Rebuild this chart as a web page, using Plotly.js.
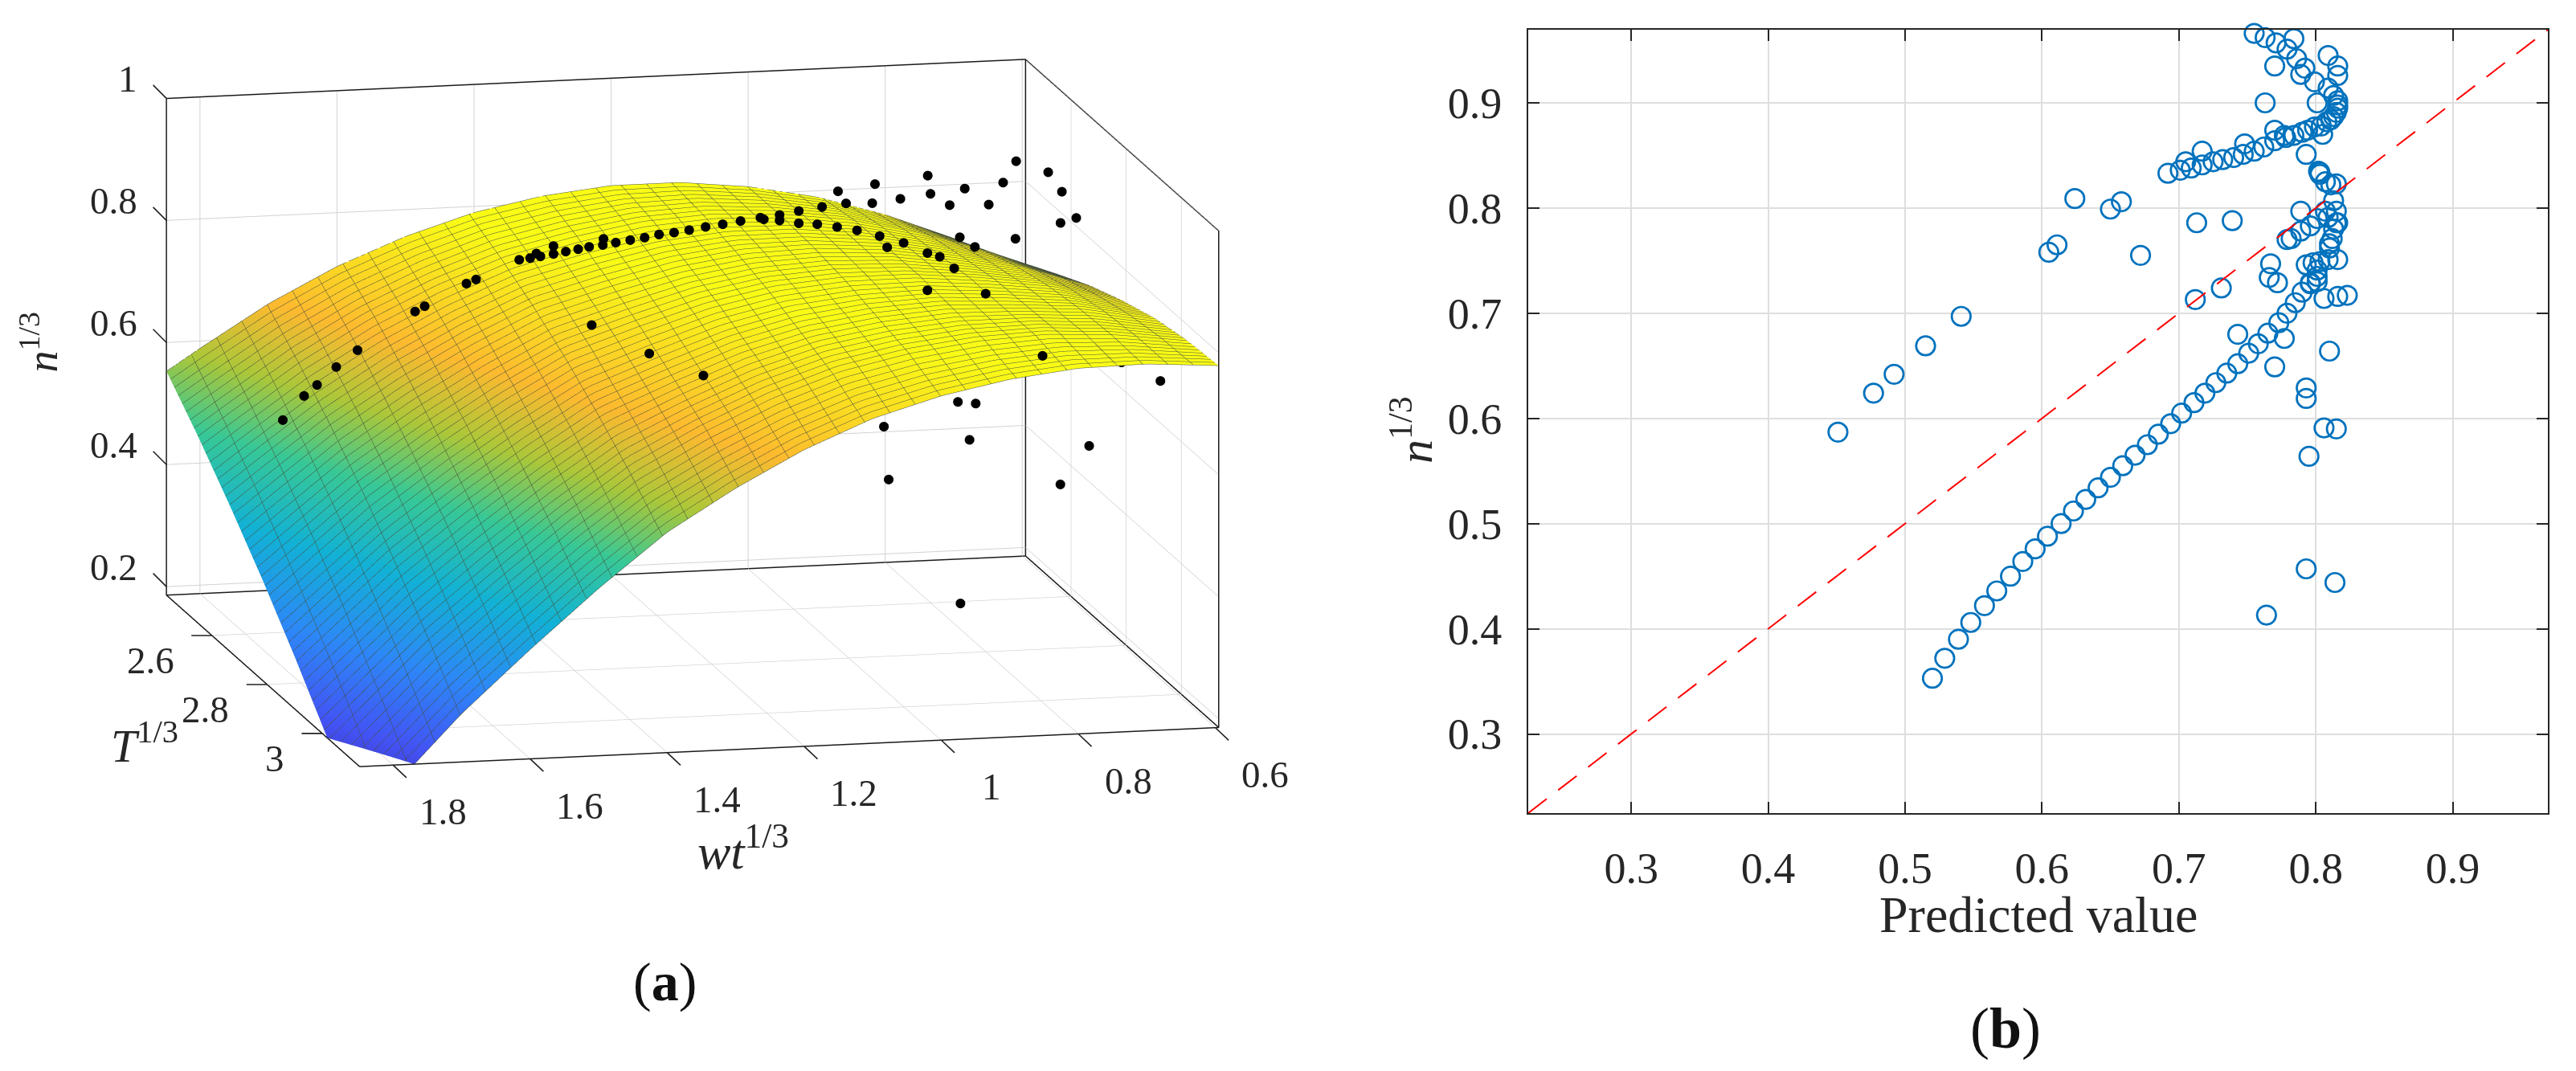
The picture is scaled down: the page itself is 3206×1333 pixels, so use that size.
<!DOCTYPE html>
<html><head><meta charset="utf-8">
<script src="https://cdn.plot.ly/plotly-3.0.1.min.js"></script>
<style>html,body{margin:0;padding:0;background:#fff}#c{width:3206px;height:1333px}</style></head>
<body><div id="c"></div>
<script>
// ---- panel (b) : measured vs predicted ----
const predicted = [
.520,.529,.539,.548,.558,.567,.577,.586,.595,.604,.614,.623,.632,.641,.650,.659,.668,.677,.685,.694,.702,.711,.719,.727,.735,.743,.751,.758,.765,.773,.779,.785,.790,.796,.801,
.672,.712,.731,.767,.766,.772,.743,.777,.770,.810,.793,.793,.806,.815,.795,.806,.816,.823,.793,.798,.803,.809,.816,.801,.801,.796,
.747,.755,.763,.771,.779,.784,.786,.792,.789,.770,.799,.809,.816,.816,.809,.813,.816,.816,.816,.815,.813,.811,.808,.804,.801,.799,.805,
.794,.790,.784,.778,.770,.762,.755,.747,.740,.732,.725,.717,.709,.701,.692,.717,.705,.748,.770,.777,.763,.793,
.802,.803,.803,.807,.811,.815,.813,.789,.807,.815,.809,.816,.801,.796,.789,.782,.779,.812,.810,
.624,.650,.658,.611,.605,.713,.739,.810,.813,.815,
.541,.515,.492,.477,.451,.793,.814,.764,.802];
const measured = [
.353,.372,.390,.406,.422,.436,.450,.464,.476,.488,.500,.512,.523,.534,.544,.555,.565,.575,.585,.595,.605,.615,.624,.634,.643,.652,.662,.671,.681,.691,.700,.710,.720,.728,.735,
.755,.713,.724,.747,.734,.729,.680,.676,.649,.664,.629,.619,.591,.590,.564,.714,.716,.717,.746,.748,.749,.751,.751,.741,.730,.729,
.970,.966,.962,.957,.951,.961,.942,.933,.927,.935,.920,.945,.935,.926,.914,.907,.902,.898,.895,.891,.887,.884,.882,.878,.900,.877,.870,
.874,.872,.869,.867,.864,.858,.854,.851,.848,.846,.844,.841,.838,.836,.833,.854,.844,.861,.874,.869,.900,.851,
.835,.834,.832,.825,.822,.823,.807,.797,.797,.797,.791,.786,.790,.783,.778,.771,.770,.771,.762,
.809,.799,.806,.765,.758,.786,.788,.766,.780,.786,
.697,.669,.642,.624,.587,.457,.444,.413,.224];
const xyRange = [0.2248, 0.9695];
const ticks2d = [0.3,0.4,0.5,0.6,0.7,0.8,0.9];

// ---- panel (a) : fitted surface ----
const wtGrid = [.595,.7,.8,.9,1.0,1.1,1.2,1.3,1.4,1.5,1.6,1.7,1.8,1.849];
const tGrid = [2.435,2.55,2.67,2.785,2.90,3.02,3.136];
const nRow0 = [.660,.712,.756,.790,.812,.824,.824,.812,.790,.756,.712,.656,.588,.553];
const nRow1 = [.694,.738,.773,.799,.813,.818,.811,.791,.764,.722,.670,.606,.530,.492];
const nRow2 = [.723,.761,.783,.801,.809,.806,.790,.763,.732,.680,.619,.548,.464,.422];
const nRow3 = [.745,.776,.791,.801,.801,.791,.768,.733,.695,.634,.564,.487,.395,.350];
const nRow4 = [.763,.785,.792,.796,.788,.771,.741,.698,.652,.582,.504,.420,.321,.272];
const nRow5 = [.774,.789,.795,.789,.774,.750,.711,.661,.602,.523,.436,.344,.237,.185];
const nRow6 = [.779,.787,.785,.772,.750,.718,.672,.614,.547,.460,.365,.265,.150,.095];

// black data points of panel (a), by depth
const midWt = [1.820,1.789,1.770,1.742,1.711,1.627,1.613,1.552,1.538,1.475,1.459,1.450,1.444,1.425,1.425,1.407,1.389,1.373,1.352,1.353,1.334,1.313,1.292,1.271,1.249,1.227,1.203,1.178,1.152,1.123,1.118,1.095,1.095,1.067,1.067,1.033,1.040,1.011,.982,.998,.949,.938,.914,.832,.810,.703,.683,.685,.662,.596,.831];
const midN  = [.612,.650,.667,.695,.721,.780,.788,.822,.828,.857,.859,.866,.861,.877,.864,.867,.870,.873,.885,.875,.878,.881,.884,.888,.890,.893,.897,.900,.904,.908,.905,.911,.902,.916,.896,.921,.893,.887,.880,.925,.869,.850,.856,.861,.844,.961,.928,.877,.884,.644,.261];
const frontWt = [1.508,1.424,1.345,1.018,.933,.850,1.018,1.000,.979,.678,.782,.824];
const frontN  = [.890,.839,.799,.922,.912,.806,.983,.976,.956,.756,.655,.594];
const backWt = [.871,.817,.821,.780,.740,.736,.708,.686,.651,.630,.611,.612,.804,.763,.696,.670,.679,.797];
const backN  = [.800,.809,.778,.783,.819,.789,.769,.795,.767,.802,.836,.709,.411,.672,.446,.442,.383,.324];

const wtRange = [.595,1.849], tRange = [2.435,3.136], nRange = [.186,1];
const wtTicks = [.6,.8,1,1.2,1.4,1.6,1.8];
const wtTickText = ['0.6','0.8','1','1.2','1.4','1.6','1.8'];
const tTicks = [2.6,2.8,3];
const tTickText = ['2.6','2.8','3'];
const nTicks = [.2,.4,.6,.8,1];
const nTickText = ['0.2','0.4','0.6','0.8','1'];

const parula = [[0,'#3e26a8'],[.14,'#4352f4'],[.28,'#2d87f7'],[.42,'#12b1d6'],[.55,'#37c897'],[.66,'#abc739'],[.77,'#fdb92f'],[.94,'#f9fb15'],[1,'#f9fb15']];
const serif = 'Liberation Serif', ink = '#262626';

const [x0,x1]=wtRange,[y0,y1]=tRange,[z0,z1]=nRange;
const eps=1e-4;
const X0=x0+eps,X1=x1-eps,Y0=y0+eps,Y1=y1-eps,Z0=z0+eps,Z1=z1-eps;
const edges=[[X1,Y0,Z1],[X0,Y0,Z1],[X0,Y1,Z1],[X0,Y1,Z0],[X1,Y1,Z0],[X1,Y0,Z0],[X1,Y0,Z1],null,
             [X1,Y0,Z0],[X0,Y0,Z0],[X0,Y1,Z0],null,[X0,Y0,Z0],[X0,Y0,Z1]];
const pick=i=>edges.map(p=>p?p[i]:null);

const traces=[
 {type:'surface',x:wtGrid,y:tGrid,z:[nRow0,nRow1,nRow2,nRow3,nRow4,nRow5,nRow6],
  colorscale:parula,cmin:.1,cmax:.825,showscale:false,hoverinfo:'skip',
  lighting:{ambient:1,diffuse:0,specular:0,roughness:1,fresnel:0},
  contours:{
    x:{show:true,start:.595,end:1.849,size:.0369,color:'#44503a',width:1,highlight:false},
    y:{show:true,start:2.435,end:3.136,size:.0143,color:'#44503a',width:1,highlight:false},
    z:{show:false,highlight:false}}},
 {type:'scatter3d',mode:'lines',x:pick(0),y:pick(1),z:pick(2),line:{color:'#1a1a1a',width:3},hoverinfo:'skip',showlegend:false},
 {type:'scatter3d',mode:'markers',x:midWt,y:midWt.map(()=>2.785),z:midN,marker:{size:7,color:'#000',line:{width:0}},hoverinfo:'skip',showlegend:false},
 {type:'scatter3d',mode:'markers',x:frontWt,y:frontWt.map(()=>3.13),z:frontN,marker:{size:7,color:'#000',line:{width:0}},hoverinfo:'skip',showlegend:false},
 {type:'scatter3d',mode:'markers',x:backWt,y:backWt.map(()=>2.44),z:backN,marker:{size:7,color:'#000',line:{width:0}},hoverinfo:'skip',showlegend:false},
 {type:'scatter',mode:'markers',x:predicted,y:measured,xaxis:'x',yaxis:'y',cliponaxis:false,hoverinfo:'skip',showlegend:false,
  marker:{symbol:'circle-open',size:23.5,color:'#0072BD',line:{width:2.7,color:'#0072BD'}}},
 {type:'scatter',mode:'lines',x:xyRange,y:xyRange,xaxis:'x',yaxis:'y',hoverinfo:'skip',showlegend:false,
  line:{color:'#ff0000',width:2,dash:'29px,18px'}}
];

const ax3=(rng,vals)=>({range:rng,tickmode:'array',tickvals:vals,showticklabels:false,title:{text:''},
  showgrid:true,gridcolor:'#d2d2d2',gridwidth:2,zeroline:false,showline:false,showbackground:false,showspikes:false,ticks:''});

const fontA={family:serif,size:47,color:ink};
const ann3=[];
const tick=(x,y,z,ax,ay)=>({x,y,z,text:' ',showarrow:true,arrowhead:0,arrowwidth:1.6,arrowcolor:'#222',standoff:0,startstandoff:0,ax,ay,font:{size:1}});
wtTicks.forEach((v,i)=>{ann3.push(tick(v,y1,z0,18,17));ann3.push({x:v,y:y1,z:z0,text:wtTickText[i],showarrow:false,xanchor:'center',yanchor:'middle',xshift:62,yshift:-58,font:fontA});});
tTicks.forEach((v,i)=>{ann3.push(tick(x1,v,z0,-27,0));ann3.push({x:x1,y:v,z:z0,text:tTickText[i],showarrow:false,xanchor:'right',yanchor:'middle',xshift:-45,yshift:-31,font:fontA});});
nTicks.forEach((v,i)=>{ann3.push(tick(x1,y0,v,-18,-18));ann3.push({x:x1,y:y0,z:v,text:nTickText[i],showarrow:false,xanchor:'right',yanchor:'middle',xshift:-34,yshift:24,font:fontA});});
ann3.push({x:1.3,y:y1,z:z0,text:'<i>wt</i><sup>1/3</sup>',showarrow:false,xanchor:'center',yanchor:'middle',xshift:9,yshift:-122,font:{family:serif,size:62,color:ink}});
ann3.push({x:x1,y:3.0,z:z0,text:'<i>T</i><sup>1/3</sup>',showarrow:false,xanchor:'center',yanchor:'middle',xshift:-221,yshift:-12,font:{family:serif,size:58,color:ink}});
ann3.push({x:x1,y:y0,z:.6,text:'<i>n</i><sup>1/3</sup>',showarrow:false,textangle:-90,xanchor:'center',yanchor:'middle',xshift:-158,yshift:0,font:{family:serif,size:54,color:ink}});

const W=3206,H=1333,K=1.934,D=2;
const layout={width:W,height:H,margin:{l:0,r:0,t:0,b:0,pad:0},paper_bgcolor:'#fff',plot_bgcolor:'rgba(0,0,0,0)',showlegend:false,hovermode:false,
 scene:{domain:{x:[0,1724/W],y:[1-1028/H,1]},bgcolor:'rgba(0,0,0,0)',
  xaxis:ax3(wtRange,wtTicks),yaxis:ax3(tRange,tTicks),zaxis:ax3(nRange,nTicks),
  aspectmode:'manual',aspectratio:{x:1.103*K,y:1.095*K,z:.635*K},
  camera:{projection:{type:'orthographic'},up:{x:0,y:0,z:1},center:{x:0,y:0,z:0},eye:{x:.2164*D,y:.9554*D,z:.2011*D}},
  annotations:ann3},
 xaxis:{domain:[1902/W,3171/W],range:xyRange,tickmode:'array',tickvals:ticks2d,ticktext:ticks2d.map(v=>v.toFixed(1)),
  showgrid:true,gridcolor:'#dedede',gridwidth:2,zeroline:false,showline:true,linecolor:ink,linewidth:2,mirror:'ticks',ticks:'inside',ticklen:14,tickwidth:2,tickcolor:ink,
  tickfont:{family:serif,size:54,color:ink},ticklabelstandoff:20},
 yaxis:{domain:[1-1012/H,1-37/H],range:xyRange,tickmode:'array',tickvals:ticks2d,ticktext:ticks2d.map(v=>v.toFixed(1)),
  showgrid:true,gridcolor:'#dedede',gridwidth:2,zeroline:false,showline:true,linecolor:ink,linewidth:2,mirror:'ticks',ticks:'inside',ticklen:14,tickwidth:2,tickcolor:ink,
  tickfont:{family:serif,size:54,color:ink},ticklabelstandoff:20},
 annotations:[
  {xref:'paper',yref:'paper',x:2537/W,y:1-1138/H,text:'Predicted value',showarrow:false,xanchor:'center',yanchor:'middle',font:{family:serif,size:64,color:ink}},
  {xref:'paper',yref:'paper',x:1757/W,y:1-535/H,text:'<i>n</i><sup>1/3</sup>',textangle:-90,showarrow:false,xanchor:'center',yanchor:'middle',font:{family:serif,size:60,color:ink}},
  {xref:'paper',yref:'paper',x:827/W,y:1-1222/H,text:'(<b>a</b>)',showarrow:false,xanchor:'center',yanchor:'middle',font:{family:serif,size:68,color:'#111'}},
  {xref:'paper',yref:'paper',x:2496/W,y:1-1280/H,text:'(<b>b</b>)',showarrow:false,xanchor:'center',yanchor:'middle',font:{family:serif,size:72,color:'#111'}}
 ]};
Plotly.newPlot('c',traces,layout,{displayModeBar:false,responsive:false});
</script></body></html>
